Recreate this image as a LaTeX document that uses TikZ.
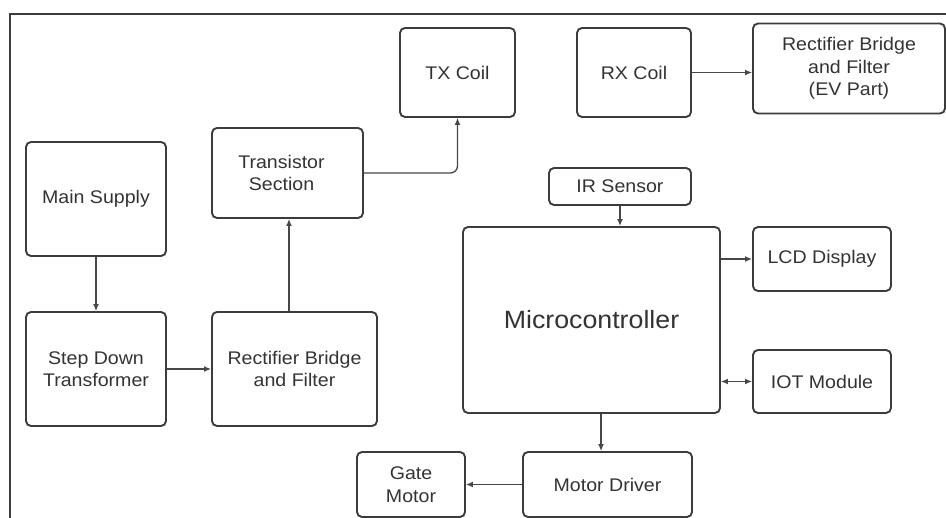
\documentclass[tikz,border=0pt]{standalone}
\usepackage{fontspec}
\setmainfont{Liberation Sans}[FakeStretch=1.07]
\usetikzlibrary{arrows.meta}
\definecolor{ink}{HTML}{333333}
\definecolor{edge}{HTML}{3C3C3C}
\definecolor{wire}{HTML}{474747}
\begin{document}
\begin{tikzpicture}[x=1pt,y=-1pt,
  blk/.style={draw=edge, line width=1.9pt, rounded corners=5pt, align=center,
    text=ink, inner sep=0pt, font=\fontsize{18.3}{22.5}\selectfont},
  conn/.style={draw=wire, line width=1.35pt, -{Latex[length=7pt,width=6pt]}},
  both/.style={draw=wire, line width=1.35pt, {Latex[length=7pt,width=6pt]}-{Latex[length=7pt,width=6pt]}}
]
\useasboundingbox (0,0) rectangle (946,518);
\draw[edge, line width=1.5pt] (10,520) -- (10,14) -- (948,14);

\node[blk, minimum width=140pt, minimum height=114pt] (ms) at (96,199) {Main Supply};
\node[blk, minimum width=140pt, minimum height=114pt] (sd) at (96,369) {Step Down\\Transformer};
\node[blk, minimum width=165pt, minimum height=114pt] (rb) at (294.5,369) {Rectifier Bridge\\and Filter};
\node[blk, minimum width=151pt, minimum height=90pt] (ts) at (287.5,173) {Transistor\hspace*{12pt}\\Section\hspace*{12pt}};
\node[blk, minimum width=115pt, minimum height=89pt] (tx) at (457.5,72.5) {TX Coil};
\node[blk, minimum width=114pt, minimum height=89pt] (rx) at (634,72.5) {RX Coil};
\node[blk, minimum width=192pt, minimum height=90pt] (ev) at (849,68.5) {Rectifier Bridge\\and Filter\\(EV Part)};
\node[blk, minimum width=142pt, minimum height=37pt] (ir) at (620,186.5) {IR Sensor};
\node[blk, minimum width=257pt, minimum height=186pt, font=\fontsize{25}{30}\selectfont] (mc) at (591.5,320) {Microcontroller};
\node[blk, minimum width=138pt, minimum height=64pt] (lcd) at (822,259) {LCD Display};
\node[blk, minimum width=138pt, minimum height=63pt] (iot) at (822,381.5) {IOT Module};
\node[blk, minimum width=169pt, minimum height=65pt] (md) at (607.5,484.5) {Motor Driver};
\node[blk, minimum width=108pt, minimum height=65pt] (gm) at (411,484.5) {Gate\\Motor};

\draw[conn] (ms) -- (sd);
\draw[conn] (sd) -- (rb);
\draw[conn] ([xshift=1.5pt]rb.north -| ts.south) -- ([xshift=1.5pt]ts.south);
\draw[conn, rounded corners=7pt] (ts.east) -| (tx.south);
\draw[conn] (rx.east) -- (rx.east -| ev.west);
\draw[conn] (ir.south) -- (ir.south |- mc.north);
\draw[conn] (lcd.west -| mc.east) -- (lcd.west);
\draw[both] (iot.west -| mc.east) -- (iot.west);
\draw[conn] ([xshift=9.5pt]mc.south) -- ([xshift=9.5pt]mc.south |- md.north);
\draw[conn] (md.west) -- (gm.east);
\end{tikzpicture}
\end{document}
